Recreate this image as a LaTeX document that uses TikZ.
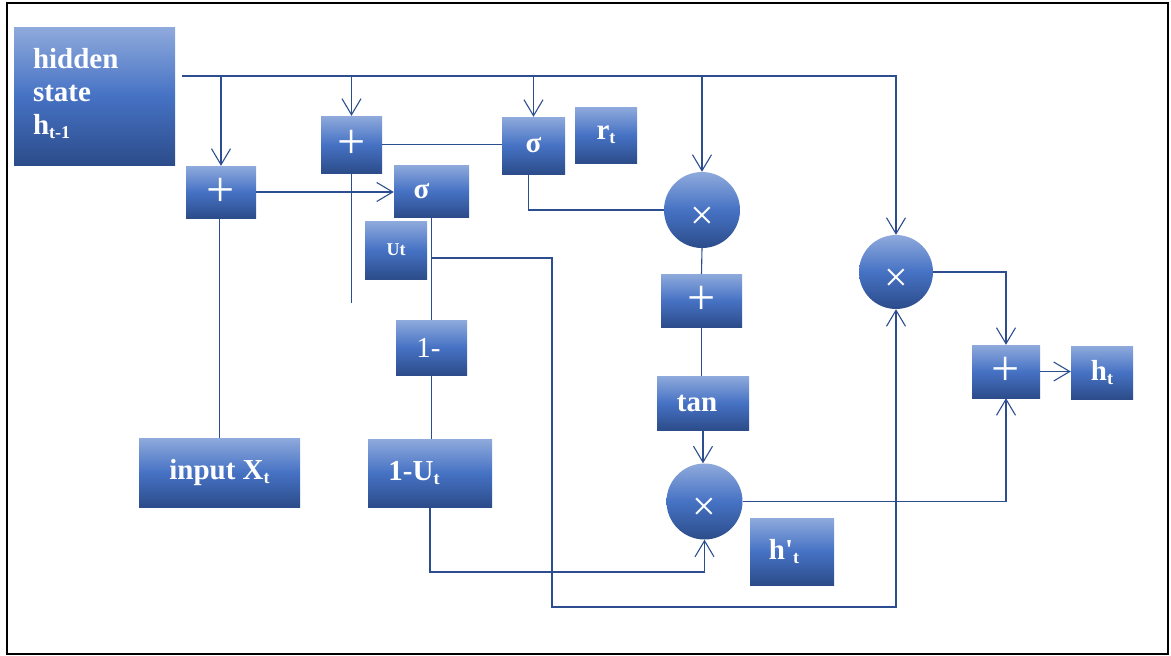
\documentclass[tikz,border=0pt]{standalone}
\usepackage{fontspec}
\setmainfont{Liberation Serif}
\usetikzlibrary{arrows.meta}
\definecolor{ln}{RGB}{44,78,145}
\definecolor{btop}{RGB}{143,170,220}
\definecolor{bmid}{RGB}{70,114,196}
\definecolor{bbot}{RGB}{44,76,138}
\newcommand\sbs[1]{\raisebox{-4pt}{\fontsize{18}{18}\selectfont #1}}
\begin{document}
\begin{tikzpicture}[x=1pt,y=-1pt,
  box/.style={rectangle, inner sep=0pt, top color=btop, bottom color=bbot, middle color=bmid, text=white, font=\fontsize{29}{33}\selectfont\bfseries},
  rnd/.style={circle, inner sep=0pt, minimum size=76pt, top color=btop, bottom color=bbot, middle color=bmid,
    label={[text=white, font=\fontsize{42}{42}\selectfont, yshift=-8pt]center:×}},
  pl/.style={font=\fontsize{50}{50}\selectfont\mdseries},
  con/.style={draw=ln, line width=1.1pt},
  arr/.style={con, -{Straight Barb[length=16pt,width=19pt]}}]
\useasboundingbox (0,0) rectangle (1171,656);
\draw[line width=2pt] (7,3) rectangle (1168,654);

% nodes
\node[box, minimum width=161pt, minimum height=138pt, text width=123pt, align=left] (hid) at (94.5,96) {hidden\\state\\h\sbs{t-1}\rule[-10pt]{0pt}{0pt}};
\node[box, pl, minimum width=70pt, minimum height=52pt] (p1) at (221,192) {+};
\node[box, pl, minimum width=61pt, minimum height=57pt] (p2) at (351.5,144.5) {+};
\node[box, minimum width=63pt, minimum height=57pt] (s1) at (533.5,145.5) {σ};
\node[box, minimum width=62pt, minimum height=56pt] (rt) at (606,135) {r\sbs{t}};
\node[box, minimum width=75pt, minimum height=52pt] (s2) at (431.5,191) {\hspace*{-20pt}σ};
\node[box, minimum width=62pt, minimum height=58pt, font=\fontsize{18}{18}\selectfont\bfseries] (ut) at (396,250) {Ut};
\node[rnd] (c1) at (702,210) {};
\node[box, pl, minimum width=81pt, minimum height=53pt] (p3) at (701.5,300.5) {+};
\node[box, minimum width=92pt, minimum height=54pt] (tanb) at (703,403) {\hspace*{-12pt}tan};
\node[rnd, minimum size=74pt] (c2) at (896,272) {};
\node[box, pl, minimum width=68pt, minimum height=53pt] (p4) at (1006,371.5) {+};
\node[box, minimum width=62pt, minimum height=53pt] (ht) at (1102,372.5) {h\sbs{t}};
\node[rnd] (c3) at (704.5,501.5) {};
\node[box, minimum width=84pt, minimum height=67pt] (hp) at (792,551.5) {\hspace*{-16pt}h\textquotesingle\sbs{t}};
\node[box, minimum width=71pt, minimum height=55pt, font=\fontsize{29}{33}\selectfont] (om) at (431.5,347.5) {\hspace*{-6pt}1-};
\node[box, minimum width=161pt, minimum height=69pt] (inp) at (219.5,472.5) {input X\sbs{t}};
\node[box, minimum width=124pt, minimum height=68pt] (omu) at (430,473) {\hspace*{-32pt}1-U\sbs{t}};

% connectors
\coordinate (busL) at (182,76);
\coordinate (busR) at (896,76);
\draw[arr] (busL) -- (busR) -- (c2.north);
\draw[arr] (busL -| p1.north) -- (p1.north);
\draw[arr] (busL -| p2.north) -- (p2.north);
\draw[arr] (busL -| s1.north) -- (s1.north);
\draw[arr] (busL -| c1.north) -- (c1.north);
\draw[con] (p2.east) -- (p2.east -| s1.west);
\draw[arr] (p1.east) -- (p1.east -| s2.west);
\coordinate (p2end) at (351.5,303);
\draw[con] (p2.south) -- (p2end);
\draw[con] (inp.north) -- (inp.north |- p1.south);
\draw[con] ([xshift=-5pt]s1.south) |- (c1.west);
\draw[con] (s2.south) -- (om.north);
\coordinate (br) at (431.5,258);
\coordinate (b2) at (552,258);
\coordinate (b3) at (552,607);
\draw[arr] (br) -- (b2) -- (b3) -| (c2.south);
\draw[con] (om.south) -- (om.south |- omu.north);
\coordinate (b4) at (430,572);
\draw[arr] (omu.south) -- (b4) -| (c3.south);
\draw[con] (c1.south) -- (p3.north);
\draw[con] (p3.south) -- (p3.south |- tanb.north);
\draw[arr] (tanb.south) -- (tanb.south |- c3.north);
\draw[arr] (c3.east) -| (p4.south);
\draw[arr] (c2.east) -| (p4.north);
\draw[arr] (p4.east) -- (p4.east -| ht.west);
\end{tikzpicture}
\end{document}
